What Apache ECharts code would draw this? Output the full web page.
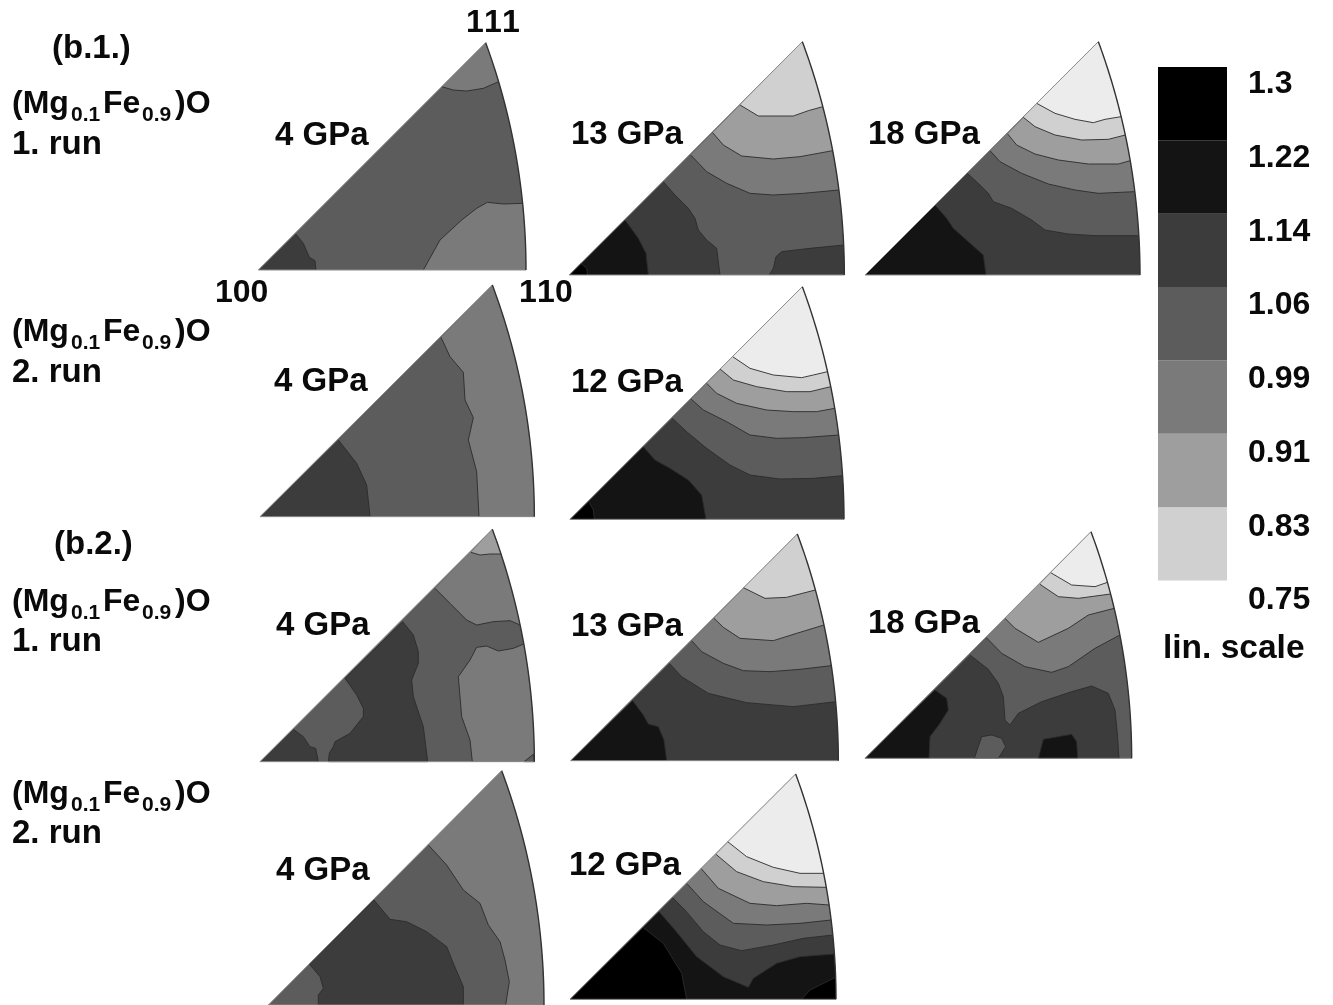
<!DOCTYPE html>
<html><head><meta charset="utf-8">
<style>html,body{margin:0;padding:0;background:#fff}#c{width:1333px;height:1005px}</style>
<script src="https://cdn.jsdelivr.net/npm/echarts@6/dist/echarts.min.js"></script>
</head><body><div id="c"></div>
<script>
// Contour levels, darkest first (index = level)
const legendTicks = ['1.3','1.22','1.14','1.06','0.99','0.91','0.83','0.75'];
const legendBands = [1,1,1,1,1,1,1];
const panelNames = ['b1r1_4','b1r1_13','b1r1_18','b1r2_4','b1r2_12','b2r1_4','b2r1_13','b2r1_18','b2r2_4','b2r2_12'];

// Each panel: corners 100 (O), 110 (A), 111 (T) and regions [level, closing rule, contour points]
// in local units on the panel's own axes
const b1r1_4_corner = {O:[25,720],A:[828,720],T:[707,38]};
const b1r1_4_regions = [
 [4,'top',[[575,170],[610,180],[650,183],[700,175],[743,155]]],
 [4,'bottom',[[520,720],[570,630],[635,570],[680,535],[712,517],[760,522],[815,520]]],
 [2,'origin',[[137,612],[160,640],[178,682],[195,692],[198,720]]]
];
const b1r1_13_corner = {O:[28,735],A:[853,735],T:[727,35]};
const b1r1_13_regions = [
 [4,'top',[[392,375],[440,425],[500,460],[570,490],[640,495],[730,490],[833,480]]],
 [5,'top',[[458,308],[490,345],[545,378],[640,387],[720,380],[813,362]]],
 [6,'top',[[540,225],[595,258],[700,258],[745,242],[787,230]]],
 [2,'origin',[[310,455],[345,495],[385,535],[405,565],[415,600],[440,630],[470,655],[480,735]]],
 [1,'origin',[[195,570],[235,625],[258,670],[265,735]]],
 [0,'origin',[[62,700],[80,715],[83,735]]],
 [2,'bottom',[[628,735],[640,715],[648,680],[665,665],[750,655],[851,645]]]
];
const b1r1_18_corner = {O:[30,735],A:[855,735],T:[730,35]};
const b1r1_18_regions = [
 [4,'top',[[405,362],[435,395],[500,430],[580,462],[660,480],[730,490],[835,485]]],
 [5,'top',[[458,312],[485,345],[540,372],[610,390],[700,402],[790,402],[822,392]]],
 [6,'top',[[505,262],[540,290],[600,315],[680,330],[760,328],[806,315]]],
 [7,'top',[[545,220],[600,250],[660,268],[715,278],[750,268],[795,260]]],
 [2,'lower',[[337,430],[375,465],[400,490],[415,515],[470,535],[530,570],[570,600],[640,612],[720,617],[850,617]]],
 [1,'origin',[[240,525],[275,565],[295,595],[340,635],[385,675],[393,735]]]
];
const b1r2_4_corner = {O:[30,725],A:[853,725],T:[727,30]};
const b1r2_4_regions = [
 [4,'right',[[573,187],[600,245],[640,292],[645,375],[670,428],[655,495],[680,590],[687,725]]],
 [2,'origin',[[265,495],[320,565],[350,630],[360,725]]]
];
const b1r2_12_corner = {O:[30,733],A:[852,733],T:[727,35]};
const b1r2_12_regions = [
 [4,'top',[[393,372],[430,405],[500,440],[570,480],[650,490],[730,488],[833,480]]],
 [5,'top',[[440,325],[470,355],[530,385],[620,405],[700,410],[770,410],[822,400]]],
 [6,'top',[[480,282],[520,315],[590,335],[680,350],[750,350],[808,335]]],
 [7,'top',[[518,245],[570,280],[640,300],[725,308],[760,300],[798,290]]],
 [2,'lower',[[337,430],[380,470],[440,520],[510,570],[570,600],[660,612],[760,610],[847,602]]],
 [1,'origin',[[250,515],[285,555],[330,580],[385,615],[425,660],[438,733]]],
 [0,'origin',[[88,682],[100,705],[103,733]]]
];
const b2r1_4_corner = {O:[30,725],A:[853,725],T:[727,28]};
const b2r1_4_regions = [
 [4,'top',[[555,205],[600,250],[650,300],[680,315],[730,305],[780,302],[808,315]]],
 [5,'top',[[663,97],[690,105],[720,102],[750,102]]],
 [4,'bottom',[[667,725],[660,660],[635,590],[625,470],[660,420],[680,382],[710,378],[745,393],[790,385],[822,372]]],
 [2,'closed',[[458,305],[490,345],[505,395],[505,430],[485,480],[490,530],[520,620],[533,725],[235,725],[238,700],[250,680],[255,665],[300,640],[340,590],[340,565],[320,525],[285,475]]],
 [2,'origin',[[130,628],[160,650],[180,680],[197,685],[205,725]]],
 [3,'closed',[[822,725],[850,703],[853,725]]]
];
const b2r1_13_corner = {O:[32,722],A:[835,722],T:[712,42]};
const b2r1_13_regions = [
 [4,'top',[[395,362],[425,395],[490,430],[550,452],[630,455],[720,448],[810,437]]],
 [5,'top',[[462,295],[490,322],[540,355],[640,362],[710,340],[787,315]]],
 [6,'top',[[550,203],[615,235],[680,232],[762,210]]],
 [2,'lower',[[328,430],[365,470],[445,520],[560,548],[700,560],[825,545]]],
 [1,'origin',[[218,542],[250,585],[265,612],[295,620],[312,660],[320,722]]]
];
const b2r1_18_corner = {O:[30,715],A:[830,715],T:[708,35]};
const b2r1_18_regions = [
 [4,'top',[[393,352],[440,400],[510,440],[590,457],[640,440],[720,385],[790,345]]],
 [5,'top',[[450,295],[480,325],[550,367],[640,325],[700,285],[775,265]]],
 [6,'top',[[555,193],[610,230],[670,235],[765,222]]],
 [7,'top',[[587,158],[650,195],[720,200],[752,187]]],
 [2,'origin',[[345,405],[400,448],[430,490],[445,530],[450,600],[465,615],[490,580],[560,545],[650,515],[710,498],[760,520],[780,570],[787,640],[792,715]]],
 [3,'closed',[[358,715],[380,650],[410,645],[440,655],[452,680],[430,715]]],
 [1,'closed',[[550,715],[565,658],[650,643],[665,665],[668,715]]],
 [1,'origin',[[240,510],[275,535],[280,570],[255,610],[225,650],[222,715]]]
];
const b2r2_4_corner = {O:[55,735],A:[882,735],T:[755,32]};
const b2r2_4_regions = [
 [4,'right',[[535,255],[590,315],[640,390],[690,430],[715,495],[750,545],[765,600],[778,665],[767,735]]],
 [2,'closed',[[372,420],[420,478],[470,485],[530,515],[590,560],[610,610],[640,680],[640,735],[205,735],[205,705],[220,685],[210,650],[178,612]]]
];
const b2r2_12_corner = {O:[30,718],A:[828,718],T:[707,42]};
const b2r2_12_regions = [
 [4,'top',[[380,370],[430,425],[520,490],[620,495],[720,490],[812,480]]],
 [5,'top',[[423,325],[475,385],[570,430],[650,437],[740,430],[805,435]]],
 [6,'top',[[468,283],[530,335],[610,365],[700,380],[797,382]]],
 [7,'top',[[503,245],[560,290],[640,322],[720,340],[785,340]]],
 [2,'lower',[[337,412],[375,450],[430,515],[480,555],[545,572],[640,555],[730,535],[818,525]]],
 [1,'lower',[[297,455],[345,510],[410,590],[490,650],[565,682],[580,655],[650,610],[720,590],[822,582]]],
 [0,'origin',[[250,503],[310,550],[365,640],[380,718]]],
 [0,'bottom',[[725,718],[750,690],[825,652]]]
];

const GRAYS = ['#000000','#141414','#3c3c3c','#5c5c5c','#7a7a7a','#9e9e9e','#d0d0d0','#ececec'];
const BASE_LEVEL = 3;
const panelData = {
 b1r1_4:{c:b1r1_4_corner,r:b1r1_4_regions}, b1r1_13:{c:b1r1_13_corner,r:b1r1_13_regions},
 b1r1_18:{c:b1r1_18_corner,r:b1r1_18_regions}, b1r2_4:{c:b1r2_4_corner,r:b1r2_4_regions},
 b1r2_12:{c:b1r2_12_corner,r:b1r2_12_regions}, b2r1_4:{c:b2r1_4_corner,r:b2r1_4_regions},
 b2r1_13:{c:b2r1_13_corner,r:b2r1_13_regions}, b2r1_18:{c:b2r1_18_corner,r:b2r1_18_regions},
 b2r2_4:{c:b2r2_4_corner,r:b2r2_4_regions}, b2r2_12:{c:b2r2_12_corner,r:b2r2_12_regions}
};
// crop origin of each panel on the page
const panelLayout = {
 b1r1_4:[250,30], b1r1_13:[560,30], b1r1_18:[855,30], b1r2_4:[250,275], b1r2_12:[560,275],
 b2r1_4:[250,520], b2r1_13:[560,520], b2r1_18:[855,520], b2r2_4:[250,760], b2r2_12:[560,760]
};

// The curved 111-110 side is a circular frame: tangent vertical at 110, passing through 111.
function frameX(c,y){
  const dx=c.A[0]-c.T[0], dy=c.A[1]-c.T[1], R=(dx*dx+dy*dy)/(2*dx), cx=c.A[0]-R, d=c.A[1]-y;
  return cx+Math.sqrt(R*R-d*d);
}
function frameArc(c){
  const out=[], n=48;
  for(let i=0;i<=n;i++){ const y=c.T[1]+(c.A[1]-c.T[1])*i/n; out.push([frameX(c,y),y]); }
  return out;
}
function snapped(p,reg){
  const pts=reg[2].slice(), r=reg[1];
  if(r==='top'||r==='bottom'||r==='lower'){ const e=pts[pts.length-1]; pts[pts.length-1]=[frameX(p.c,e[1]),e[1]]; }
  return pts;
}
function closePoly(p, reg, arc){
  const rule = reg[1], pts = snapped(p,reg), end = pts[pts.length-1];
  if(rule==='top') arc.filter(a=>a[1]<end[1]).reverse().forEach(a=>pts.push(a));
  if(rule==='bottom'||rule==='lower') arc.filter(a=>a[1]>end[1]).forEach(a=>pts.push(a));
  if(rule==='lower'||rule==='origin') pts.push(p.c.O);
  if(rule==='right') arc.slice().reverse().forEach(a=>pts.push(a));
  return pts;
}

const grids=[],xAxes=[],yAxes=[],series=[];
panelNames.forEach((name,i)=>{
  const [l,t]=panelLayout[name], p=panelData[name];
  const h = t===760?245:250;
  grids.push({left:l,top:t,width:300,height:h,containLabel:false});
  xAxes.push({type:'value',gridIndex:i,min:0,max:900,show:false});
  yAxes.push({type:'value',gridIndex:i,min:0,max:h*3,inverse:true,show:false});
  const arc=frameArc(p.c);
  const sector=[p.c.O].concat(arc);
  series.push({
    type:'custom',name:name,xAxisIndex:i,yAxisIndex:i,silent:true,clip:false,animation:false,
    data:[[-1]].concat(p.r.map((_,k)=>[k])).concat([[-2]]),
    renderItem:function(params,api){
      const k=api.value(0), C=q=>api.coord(q);
      if(k===-1){
        return {type:'polygon',shape:{points:sector.map(C)},style:{fill:GRAYS[BASE_LEVEL]},z2:0};
      }
      if(k===-2){
        return {type:'group',z2:200,children:[
          {type:'polyline',shape:{points:[p.c.T,p.c.O,p.c.A].map(C)},style:{fill:'none',stroke:'#8c8c8c',lineWidth:1}},
          {type:'polyline',shape:{points:arc.map(C)},style:{fill:'none',stroke:'#333',lineWidth:1.4}}
        ]};
      }
      const reg=p.r[k], line=snapped(p,reg);
      return {type:'group',z2:k+1,children:[
        {type:'polygon',shape:{points:closePoly(p,reg,arc).map(C)},style:{fill:GRAYS[reg[0]]}},
        {type:'polyline',shape:{points:(reg[1]==='closed'?line.concat([line[0]]):line).map(C)},style:{fill:'none',stroke:'#2b2b2b',lineWidth:0.9}}
      ]};
    }
  });
});

// legend colour bar
const gi=panelNames.length;
grids.push({left:1158,top:67,width:69,height:513.5});
xAxes.push({type:'category',gridIndex:gi,data:['scale'],show:false});
yAxes.push({type:'value',gridIndex:gi,min:0,max:7,show:false});
legendBands.forEach((v,i)=>{
  series.push({type:'bar',xAxisIndex:gi,yAxisIndex:gi,stack:'lg',barWidth:'100%',silent:true,animation:false,
    data:[v],itemStyle:{color:GRAYS[6-i]}});
});
// legend tick labels
grids.push({left:1158,top:84.5,width:69,height:516});
xAxes.push({type:'value',gridIndex:gi+1,min:0,max:1,show:false});
yAxes.push({type:'value',gridIndex:gi+1,min:0,max:7,interval:1,position:'right',inverse:true,
  axisLine:{show:false},axisTick:{show:false},splitLine:{show:false},
  axisLabel:{show:true,margin:21,align:'left',color:'#0a0a0a',fontFamily:'Liberation Sans',fontWeight:'bold',fontSize:32,
    formatter:v=>legendTicks[v]}});

const FF='Liberation Sans';
function txt(s,x,y,size,align){
  return {type:'text',x:x,y:y+1.5,silent:true,style:{text:s,fill:'#0a0a0a',font:'bold '+(size||33)+'px "'+FF+'"',textAlign:align||'left',textVerticalAlign:'middle'}};
}
function formula(y){
  return [txt('(Mg',12,y,32),txt('0.1',71,y+11,21),txt('Fe',103,y,32),txt('0.9',142,y+11,21),txt(')O',175,y,32)];
}
const els=[
 txt('(b.1.)',52,47),txt('(b.2.)',54,543),
 ...formula(103),txt('1. run',12,143),
 ...formula(331),txt('2. run',12,371),
 ...formula(601),txt('1. run',12,640),
 ...formula(793),txt('2. run',12,832),
 txt('1',466,22,32),txt('1',484,22,32),txt('1',502,22,32),
 txt('100',215,292,32),
 txt('1',519,292,32),txt('1',537,292,32),txt('0',555,292,32),
 txt('4 GPa',275,134),txt('13 GPa',571,133),txt('18 GPa',868,133),
 txt('4 GPa',274,380),txt('12 GPa',571,381),
 txt('4 GPa',276,624),txt('13 GPa',571,625),txt('18 GPa',868,622),
 txt('4 GPa',276,869),txt('12 GPa',569,864),
 txt('lin. scale',1163,647,33.5)
];

const chart=echarts.init(document.getElementById('c'),null,{renderer:'canvas'});
chart.setOption({backgroundColor:'#fff',animation:false,grid:grids,xAxis:xAxes,yAxis:yAxes,series:series,graphic:{elements:els},tooltip:{show:false}});
</script></body></html>
